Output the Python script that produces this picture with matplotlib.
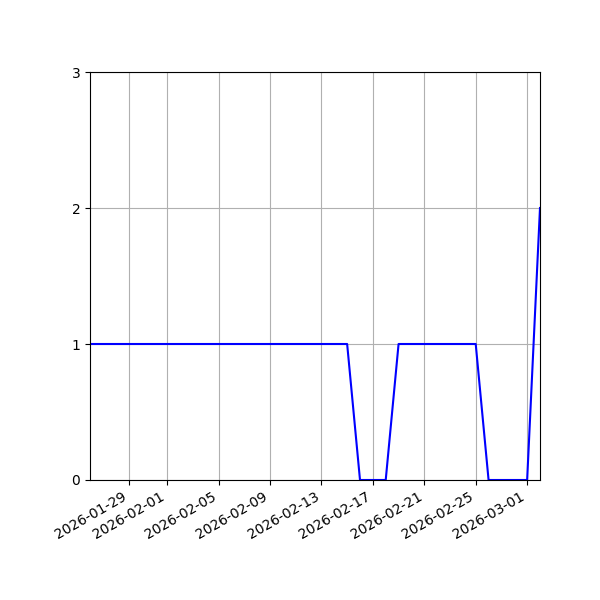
import matplotlib
matplotlib.use("Agg")
import matplotlib.pyplot as plt
import matplotlib.dates as mdates
import pandas as pd

# daily counts, 2026-01-26 .. 2026-03-02
dates = pd.date_range("2026-01-26", "2026-03-02", freq="D")
counts = [1, 1, 1, 1, 1, 1, 1, 1, 1, 1,
          1, 1, 1, 1, 1, 1, 1, 1, 1, 1,
          1, 0, 0, 0, 1, 1, 1, 1, 1, 1,
          1, 0, 0, 0, 0, 2]

fig, ax = plt.subplots(figsize=(6, 6), dpi=100)
ax.plot(dates, counts, color="blue")
ax.set_xlim(dates[0], dates[-1])
ax.set_ylim(0, 3)
ax.set_yticks([0, 1, 2, 3])
ax.xaxis.set_major_formatter(mdates.DateFormatter("%Y-%m-%d"))
ax.grid(True)
fig.autofmt_xdate()
fig.subplots_adjust(left=0.15)

fig.savefig("out.png", dpi=100)
